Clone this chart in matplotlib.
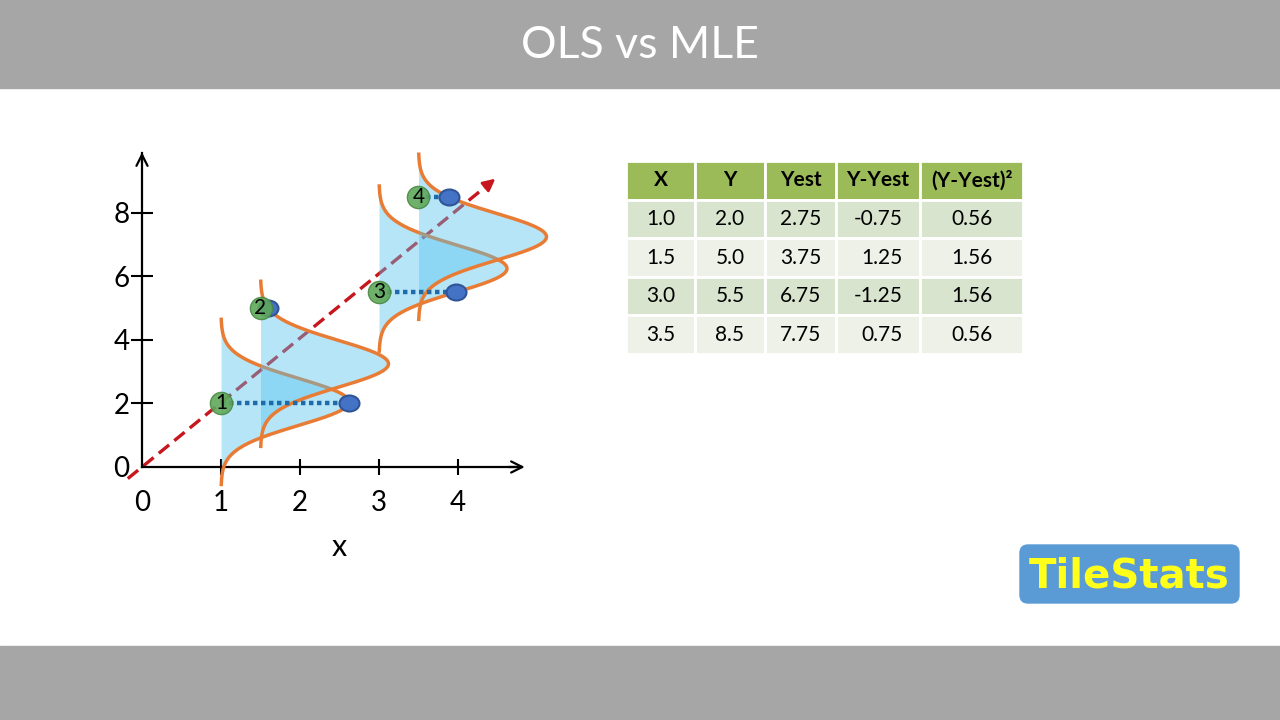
import numpy as np
import matplotlib.pyplot as plt
from matplotlib.patches import Rectangle, FancyBboxPatch
from matplotlib.markers import MarkerStyle
from matplotlib.transforms import Affine2D

plt.rcParams['font.family'] = ['Lato', 'DejaVu Sans']

# data points and least squares table
x_vals = [1.0, 1.5, 3.0, 3.5]
y_vals = [2.0, 5.0, 5.5, 8.5]
y_est = [2.75, 3.75, 6.75, 7.75]
resid = [-0.75, 1.25, -1.25, 0.75]
resid_sq = [0.56, 1.56, 1.56, 0.56]
col_labels = ['X', 'Y', 'Yest', 'Y-Yest', '(Y-Yest)²']

# normal curves drawn at each x (centres)
curve_centers = [2.05, 3.25, 6.25, 7.25]
curve_sd = 0.74
curve_height = 1.62
curve_span = 2.6

# dashed fitted line as drawn
line_slope = 2.03
line_x = [-0.18, 4.42]

xticks = [0, 1, 2, 3, 4]
yticks = [0, 2, 4, 6, 8]

orange = '#e97c34'
fill_col = '#55c3f0'
red = '#c8161e'
dot_blue = '#1f6aa8'

fig = plt.figure(figsize=(12.8, 7.2), dpi=100)

# background: grey bars, title, logo (pixel coords)
bg = fig.add_axes([0, 0, 1, 1])
bg.set_xlim(0, 1280)
bg.set_ylim(720, 0)
bg.axis('off')
bg.add_patch(Rectangle((0, 0), 1280, 88, color='#a6a6a6'))
bg.add_patch(Rectangle((0, 646), 1280, 74, color='#a6a6a6'))
bg.text(640, 46, 'OLS vs MLE', color='white', fontsize=32,
        ha='center', va='center')
bg.add_patch(FancyBboxPatch((1020, 545), 219, 58, boxstyle='round,pad=0,rounding_size=8',
                            color='#5b9bd5'))
bg.text(1129, 576, 'TileStats', color='#ffff1a', fontsize=29, fontweight='heavy',
        ha='center', va='center', family=['DejaVu Sans'])

# main chart
ax = fig.add_axes([118.3 / 1280, (720 - 498.75) / 720, 442.4 / 1280, 365.15 / 720])
ax.set_xlim(-0.3, 5.3)
ax.set_ylim(-1, 10.5)
ax.patch.set_alpha(0)

ax.plot(line_x, [line_slope * v for v in line_x], color=red, lw=2.4,
        dashes=(4, 2), zorder=1)
ax.annotate('', xy=(line_x[1] + 0.08, line_slope * (line_x[1] + 0.08)),
            xytext=(line_x[1] - 0.1, line_slope * (line_x[1] - 0.1)),
            arrowprops=dict(arrowstyle='-|>', color=red, lw=2, mutation_scale=18), zorder=1)

for i, (x0, mu) in enumerate(zip(x_vals, curve_centers)):
    yy = np.linspace(mu - curve_span, mu + curve_span, 300)
    xx = x0 + curve_height * np.exp(-(yy - mu) ** 2 / (2 * curve_sd ** 2))
    ax.fill_betweenx(yy, x0, xx, color=fill_col, alpha=0.42, lw=0, zorder=2 + 2 * i)
    ax.plot(xx, yy, color=orange, lw=2.5, zorder=3 + 2 * i)

ell = MarkerStyle('o', transform=Affine2D().scale(1.25, 1.0))
for i, (x0, y0, mu) in enumerate(zip(x_vals, y_vals, curve_centers)):
    xd = x0 + curve_height * np.exp(-(y0 - mu) ** 2 / (2 * curve_sd ** 2))
    ax.plot([x0, xd], [y0, y0], color=dot_blue, lw=3.2, linestyle=(0, (1, 0.8)), zorder=12)
    ax.plot(xd, y0, marker=ell, ms=11.5, mfc='#4472c4', mec='#2f5597', mew=1.5, zorder=13)
    ax.plot(x0, y0, 'o', ms=16, mfc='#5fa85a', mec='#4a8a45', mew=1, alpha=0.9, zorder=14)
    ax.text(x0, y0, str(i + 1), fontsize=15, ha='center', va='center', zorder=15)

for side in ['top', 'right']:
    ax.spines[side].set_visible(False)
ax.spines['left'].set_position(('data', 0))
ax.spines['bottom'].set_position(('data', 0))
ax.spines['left'].set_bounds(0, 9.9)
ax.spines['bottom'].set_bounds(0, 4.8)
ax.spines['left'].set_linewidth(1.6)
ax.spines['bottom'].set_linewidth(1.6)
ax.annotate('', xy=(0, 10.0), xytext=(0, 9.5),
            arrowprops=dict(arrowstyle='->', color='black', lw=1.6, mutation_scale=20))
ax.annotate('', xy=(4.88, 0), xytext=(4.6, 0),
            arrowprops=dict(arrowstyle='->', color='black', lw=1.6, mutation_scale=20))

ax.set_xticks(xticks)
ax.set_yticks(yticks)
ax.tick_params(axis='x', direction='inout', length=11.5, width=1.5, labelsize=20, pad=11)
ax.tick_params(axis='y', direction='inout', length=16, width=1.5, labelsize=20, pad=1)
ax.xaxis.get_major_ticks()[0].tick1line.set_visible(False)
ax.yaxis.get_major_ticks()[0].tick1line.set_visible(False)
ax.set_xlabel('x', fontsize=22, labelpad=12)

# table
tax = fig.add_axes([626 / 1280, (720 - 354) / 720, 397 / 1280, 193 / 720])
tax.axis('off')
rows = [[f'{a:.1f}', f'{b:.1f}', f'{c:.2f}', f'{d:.2f}', f'{e:.2f}']
        for a, b, c, d, e in zip(x_vals, y_vals, y_est, resid, resid_sq)]
widths = np.array([69, 70, 71, 84, 103]) / 397
tbl = tax.table(cellText=rows, colLabels=col_labels, colWidths=list(widths),
                cellLoc='center', bbox=[0, 0, 1, 1])
tbl.auto_set_font_size(False)
tbl.set_fontsize(15)
for (r, c), cell in tbl.get_celld().items():
    cell.set_edgecolor('white')
    cell.set_linewidth(2)
    if r == 0:
        cell.set_facecolor('#9bbb59')
        cell.get_text().set_fontweight('bold')
    else:
        cell.set_facecolor('#d9e4cf' if r % 2 == 1 else '#edf1e8')
        if c == 3:
            cell._loc = 'right'
            cell.PAD = 0.21
            cell.get_text().set_ha('right')

fig.savefig('out.png', dpi=100)
